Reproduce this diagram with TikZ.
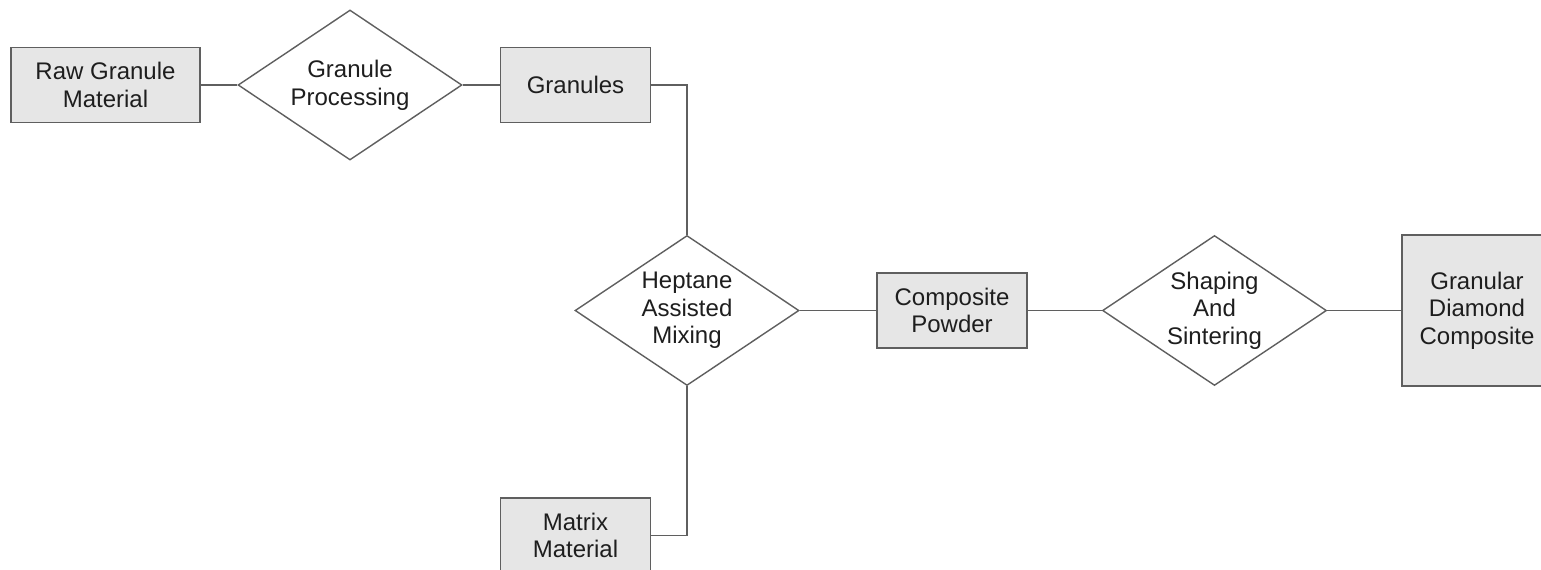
\documentclass[tikz,border=0pt]{standalone}
\usepackage{fontspec}
\setmainfont{Liberation Sans}
\usetikzlibrary{shapes.geometric}
\definecolor{boxgray}{RGB}{230,230,230}
\definecolor{linegray}{RGB}{95,95,95}
\definecolor{textgray}{RGB}{30,30,30}

\begin{document}
\begin{tikzpicture}[x=0.5pt,y=-0.5pt,
  box/.style={draw=linegray,fill=boxgray,line width=0.75pt,minimum width=75pt,minimum height=37.5pt,
    inner sep=0pt,align=center,text=textgray,font=\fontsize{12}{13.8}\selectfont},
  proc/.style={diamond,aspect=1.5,draw=linegray,fill=white,line width=0.7pt,minimum width=112pt,
    minimum height=75pt,inner sep=0pt,align=center,text=textgray,font=\fontsize{12}{13.8}\selectfont},
  link/.style={draw=linegray,line width=0.7pt}]
\useasboundingbox (0,0) rectangle (1541,569);
\node (raw) at (105.5,85) [box,minimum width=94.5pt] {Raw Granule\\Material};
\node (gproc) at (350,85) [proc] {Granule\\Processing};
\node (gran) at (575.5,85) [box] {Granules};
\node (mix) at (687,310.5) [proc] {Heptane\\Assisted\\Mixing};
\node (matrix) at (575.5,535.5) [box] {Matrix\\Material};
\node (powder) at (952,310.5) [box] {Composite\\Powder};
\node (sinter) at (1214.5,310.5) [proc] {Shaping\\And\\Sintering};
\node (gdc) at (1477,310.5) [box,minimum height=75.5pt] {Granular\\Diamond\\Composite};
\draw[link] (raw.east) -- (gproc.west);
\draw[link] (gproc.east) -- (gran.west);
\draw[link] (gran.east) -| (mix.north);
\draw[link] (matrix.east) -| (mix.south);
\draw[link] (mix.east) -- (powder.west);
\draw[link] (powder.east) -- (sinter.west);
\draw[link] (sinter.east) -- (gdc.west);
\end{tikzpicture}
\end{document}
